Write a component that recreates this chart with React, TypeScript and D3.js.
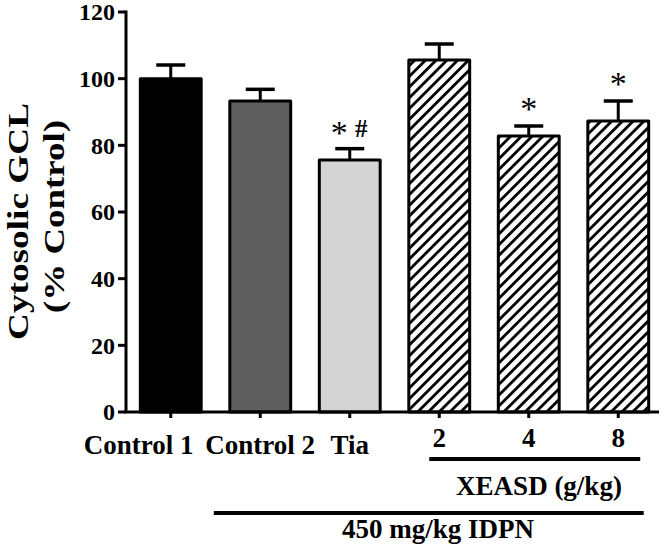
import React from "react";
import * as d3 from "d3";

const categories = ["Control 1", "Control 2", "Tia", "2", "4", "8"];
const means = [100, 93.3, 75.6, 105.6, 82.8, 87.3];
const errors = [4.1, 3.5, 3.4, 4.8, 3.0, 6.0];
const fills = ["#000000", "#5f5f5f", "#d4d4d4", "hatch", "hatch", "hatch"];
const marks = ["", "", "*#", "", "*", "*"];
const yTicks = [0, 20, 40, 60, 80, 100, 120];
const groupXeasd = ["2", "8"];
const groupIdpn = ["Control 2", "8"];

const W = 665;
const H = 559;
const FONT = '"Liberation Serif", "Times New Roman", serif';

export default function App() {
  const x = d3.scaleBand<string>().domain(categories).range([126, 663]).paddingInner(0.32).paddingOuter(0.16);
  const y = d3.scaleLinear().domain([0, 120]).range([412, 12]);
  const bw = x.bandwidth();
  const capW = 29;

  return (
    <div style={{ position: "absolute", left: 0, top: 0 }}>
      <svg width={W} height={H} style={{ display: "block", background: "#fff", fontFamily: FONT }}>
        <defs>
          <pattern id="hatch" patternUnits="userSpaceOnUse" width={7.6} height={7.6} patternTransform="rotate(45)">
            <rect width={7.6} height={7.6} fill="#fff" />
            <line x1={0} y1={0} x2={0} y2={7.6} stroke="#000" strokeWidth={5.6} />
          </pattern>
        </defs>

        {/* bars */}
        {categories.map((c, i) => {
          const x0 = x(c)!;
          const cx = x0 + bw / 2;
          const top = y(means[i]);
          const errTop = y(means[i] + errors[i]);
          return (
            <g key={c}>
              <line x1={cx} x2={cx} y1={top} y2={errTop} stroke="#000" strokeWidth={3} />
              <line x1={cx - capW / 2} x2={cx + capW / 2} y1={errTop} y2={errTop} stroke="#000" strokeWidth={3.5} />
              <rect
                x={x0}
                y={top}
                width={bw}
                height={y(0) - top}
                fill={fills[i] === "hatch" ? "url(#hatch)" : fills[i]}
                stroke="#000"
                strokeWidth={3}
                strokeLinejoin="round"
              />
            </g>
          );
        })}

        {/* significance marks */}
        {categories.map((c, i) => {
          const m = marks[i];
          if (!m) return null;
          const cx = x(c)! + bw / 2;
          const errTop = y(means[i] + errors[i]);
          if (m === "*#") {
            return (
              <g key={"m" + c}>
                <text x={cx - 10.5} y={errTop - 5} fontSize={34} textAnchor="middle">*</text>
                <text x={cx + 11.5} y={errTop - 11.5} fontSize={25} fontWeight="bold" textAnchor="middle">#</text>
              </g>
            );
          }
          return (
            <text key={"m" + c} x={cx} y={errTop - 6} fontSize={34} textAnchor="middle">*</text>
          );
        })}

        {/* y axis */}
        <line x1={126} x2={126} y1={y(120) - 1.5} y2={y(0)} stroke="#000" strokeWidth={3} />
        {yTicks.map((t) => (
          <g key={t}>
            <line x1={118} x2={126} y1={y(t)} y2={y(t)} stroke="#000" strokeWidth={3} />
            <text x={115} y={y(t)} dy="0.35em" textAnchor="end" fontSize={24} fontWeight="bold">{t}</text>
          </g>
        ))}

        {/* x axis */}
        <line x1={124.5} x2={659} y1={y(0)} y2={y(0)} stroke="#000" strokeWidth={3} />
        {categories.map((c, i) => {
          const cx = x(c)! + bw / 2;
          const lx = i === 0 ? cx - 32 : cx;
          return (
            <g key={"t" + c}>
              <line x1={cx} x2={cx} y1={y(0)} y2={y(0) + 6} stroke="#000" strokeWidth={3} />
              <text x={lx} y={i >= 3 ? 447 : 454} textAnchor="middle" fontSize={27} fontWeight="bold">{c}</text>
            </g>
          );
        })}

        {/* group lines */}
        <line x1={x(groupXeasd[0])! + bw / 2 - 10} x2={x(groupXeasd[1])! + bw / 2 + 22} y1={459} y2={459} stroke="#000" strokeWidth={4} />
        <text x={539} y={495} textAnchor="middle" fontSize={27} fontWeight="bold">XEASD (g/kg)</text>
        <line x1={x(groupIdpn[0])! - 16} x2={x(groupIdpn[1])! + bw - 5} y1={513} y2={513} stroke="#000" strokeWidth={4} />
        <text x={438} y={538} textAnchor="middle" fontSize={27} fontWeight="bold">450 mg/kg IDPN</text>

        {/* y title */}
        <text transform="translate(28,221.5) rotate(-90)" textAnchor="middle" fontSize={30} fontWeight="bold" textLength={237} lengthAdjust="spacingAndGlyphs">Cytosolic GCL</text>
        <text transform="translate(64,216.5) rotate(-90)" textAnchor="middle" fontSize={30} fontWeight="bold" textLength={193} lengthAdjust="spacingAndGlyphs">(% Control)</text>
      </svg>
    </div>
  );
}
